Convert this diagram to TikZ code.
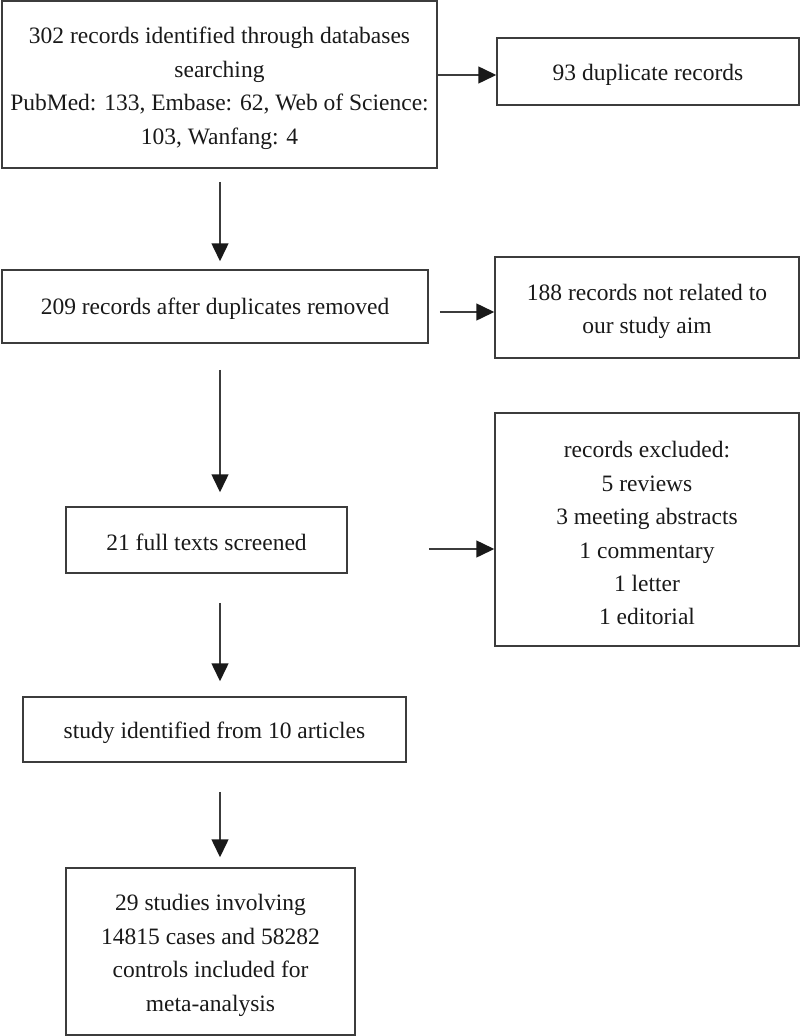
\documentclass[tikz,border=0pt]{standalone}
\usepackage{fontspec}
\setmainfont{Liberation Serif}
\usetikzlibrary{arrows.meta}
\definecolor{linegray}{RGB}{60,60,60}
\definecolor{textgray}{RGB}{25,25,25}
\definecolor{tipgray}{RGB}{25,25,25}
\newcommand{\liftline}{\rule{0pt}{24pt}}
\tikzset{
  box/.style={draw=linegray, line width=1.5pt, rectangle, inner sep=0pt,
    align=center, text=textgray,
    font=\fontsize{23.5}{33.4}\selectfont},
  arr/.style={draw=linegray, line width=1.5pt,
    -{Triangle[length=18pt,width=17pt,color=tipgray]}}
}
\begin{document}
\begin{tikzpicture}[x=1pt,y=-1pt]
\useasboundingbox (0,0) rectangle (800,1036);
\node[box, minimum width=435pt, minimum height=167pt] (b1) at (219.5,84.5)
  {\liftline 302 records identified through databases\\searching\\PubMed: 133, Embase: 62, Web of Science:\\103, Wanfang: 4};
\node[box, minimum width=302pt, minimum height=67pt] (b2) at (648,71.5)
  {\liftline 93 duplicate records};
\node[box, minimum width=426pt, minimum height=73pt] (b3) at (215,306.5)
  {\rule{0pt}{20pt}209 records after duplicates removed};
\node[box, minimum width=304pt, minimum height=101pt] (b4) at (647,307.5)
  {\liftline 188 records not related to\\our study aim};
\node[box, minimum width=281pt, minimum height=66pt] (b5) at (206.5,540)
  {\rule{0pt}{22pt}21 full texts screened};
\node[box, minimum width=304pt, minimum height=233pt] (b6) at (647,529.5)
  {\liftline records excluded:\\5 reviews\\3 meeting abstracts\\1 commentary\\1 letter\\1 editorial};
\node[box, minimum width=383pt, minimum height=65pt] (b7) at (214.5,729.5)
  {\liftline study identified from 10 articles};
\node[box, minimum width=289pt, minimum height=167pt] (b8) at (210.5,951.5)
  {\liftline 29 studies involving\\14815 cases and 58282\\controls included for\\meta-analysis};
% guide coordinates
\coordinate (ax) at (220,0);
\coordinate (h1) at (0,75);
\coordinate (h2) at (0,312);
\coordinate (h3) at (0,549);
% vertical arrows
\draw[arr, shorten <=13pt, shorten >=8pt] (b1.south -| ax) -- (b3.north -| ax);
\draw[arr, shorten <=26pt, shorten >=14pt] (b3.south -| ax) -- (b5.north -| ax);
\draw[arr, shorten <=29pt, shorten >=15pt] (b5.south -| ax) -- (b7.north -| ax);
\draw[arr, shorten <=29pt, shorten >=10pt] (b7.south -| ax) -- (b8.north -| ax);
% horizontal arrows
\draw[arr] (b1.east |- h1) -- (b2.west |- h1);
\draw[arr, shorten <=11pt] (b3.east |- h2) -- (b4.west |- h2);
\draw[arr, shorten <=81pt] (b5.east |- h3) -- (b6.west |- h3);
\end{tikzpicture}
\end{document}
